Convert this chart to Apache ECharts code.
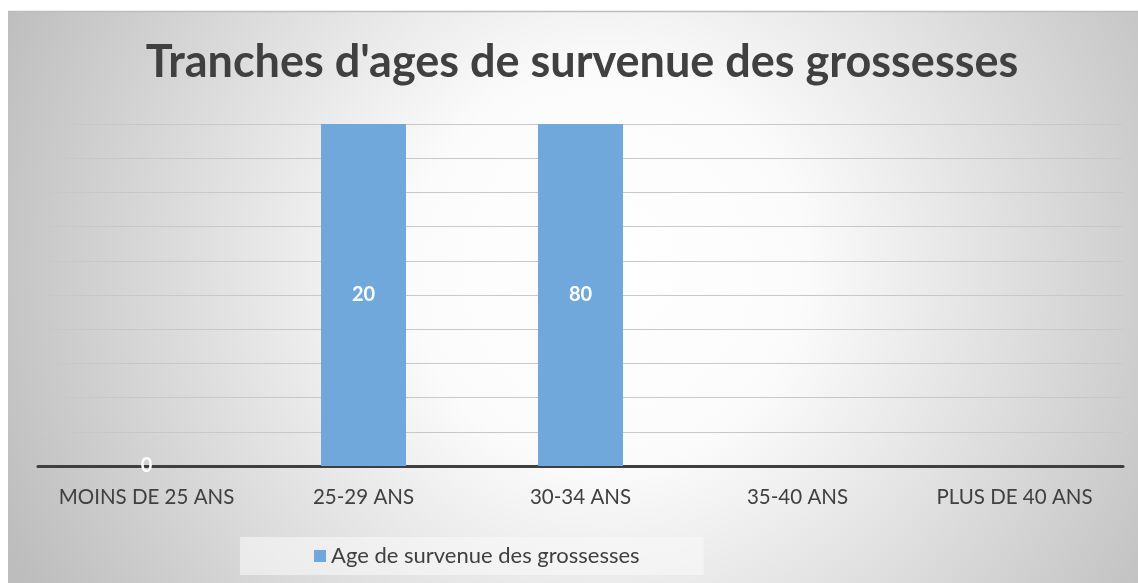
<!DOCTYPE html>
<html>
<head>
<meta charset="utf-8">
<script src="https://cdn.jsdelivr.net/npm/echarts@6/dist/echarts.min.js"></script>
<style>
html,body{margin:0;padding:0;background:#ffffff;}
#chart{width:1138px;height:583px;}
</style>
</head>
<body>
<div id="chart"></div>
<script>
const titleText = "Tranches d'ages de survenue des grossesses";
const seriesName = "Age de survenue des grossesses";
const categories = ["MOINS DE 25 ANS", "25-29 ANS", "30-34 ANS", "35-40 ANS", "PLUS DE 40 ANS"];
const values = [0, 20, 80, null, null];
const yMin = 0;
const yMax = 20;
const yInterval = 2;

const chart = echarts.init(document.getElementById('chart'), null, {renderer: 'canvas'});
chart.setOption({
  animation: false,
  backgroundColor: '#ffffff',
  graphic: [
    {
      type: 'rect', z: -10, silent: true,
      shape: {x: 8, y: 11, width: 1130, height: 572},
      style: {
        fill: {
          type: 'radial', x: 0.53, y: 0.45, r: 1.15,
          colorStops: [
            {offset: 0, color: '#ffffff'},
            {offset: 0.3, color: '#fbfbfb'},
            {offset: 1, color: '#bdbdbd'}
          ]
        }
      }
    },
    {
      type: 'line', z: -9, silent: true,
      shape: {x1: 8, y1: 11.5, x2: 1138, y2: 11.5},
      style: {stroke: '#bdbdbd', lineWidth: 1.5}
    }
  ],
  title: {
    text: titleText,
    left: 577,
    textAlign: 'center',
    top: 35,
    textStyle: {fontFamily: 'Lato', fontWeight: 'bold', fontSize: 45, color: '#404040'}
  },
  legend: {
    data: [seriesName],
    left: 240,
    top: 537,
    padding: [8, 64, 8, 74],
    backgroundColor: 'rgba(248,248,248,0.6)',
    icon: 'rect',
    itemWidth: 12,
    itemHeight: 12,
    itemGap: 5,
    textStyle: {fontFamily: 'Lato', fontSize: 22, color: '#404040'}
  },
  grid: {left: 38, right: 15, top: 124, bottom: 117, containLabel: false},
  xAxis: {
    type: 'category',
    data: categories,
    axisLine: {show: true, lineStyle: {color: '#3f3f3f', width: 3}},
    axisTick: {show: false},
    axisLabel: {interval: 0, margin: 21, fontFamily: 'Lato', fontSize: 20.5, color: '#404040'},
    splitLine: {show: false}
  },
  yAxis: {
    type: 'value',
    min: yMin, max: yMax, interval: yInterval,
    axisLine: {show: false},
    axisTick: {show: false},
    axisLabel: {show: false},
    splitLine: {show: true, lineStyle: {color: '#c8c8c8', width: 1}}
  },
  series: [{
    name: seriesName,
    type: 'bar',
    data: values,
    barWidth: 85,
    clip: true,
    z: 4,
    itemStyle: {color: '#70a8dc', borderWidth: 0},
    label: {
      show: true,
      position: 'inside',
      fontFamily: 'Lato', fontWeight: 'bold', fontSize: 20, color: '#ffffff'
    }
  }]
});
</script>
</body>
</html>
